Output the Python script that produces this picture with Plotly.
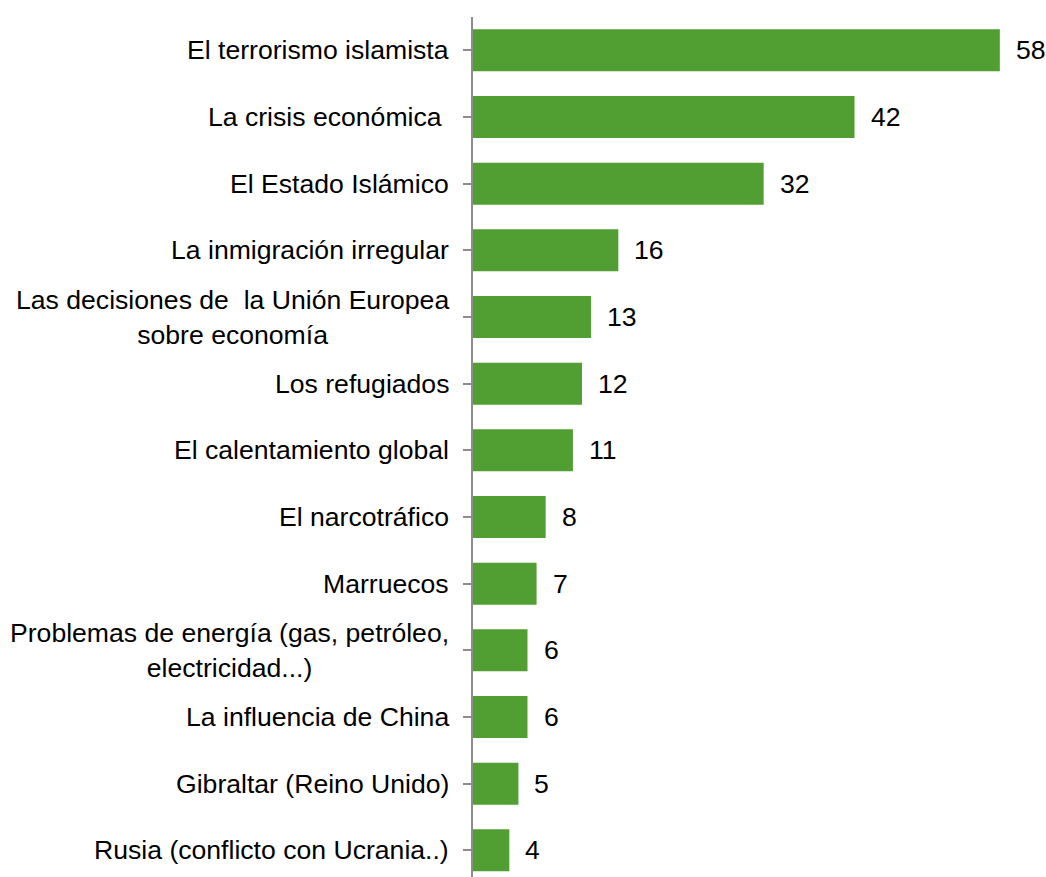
import plotly.graph_objects as go

categories = [
    "El terrorismo islamista",
    "La crisis económica ",
    "El Estado Islámico",
    "La inmigración irregular",
    "Las decisiones de  la Unión Europea<br>sobre economía",
    "Los refugiados",
    "El calentamiento global",
    "El narcotráfico",
    "Marruecos",
    "Problemas de energía (gas, petróleo,<br>electricidad...)",
    "La influencia de China",
    "Gibraltar (Reino Unido)",
    "Rusia (conflicto con Ucrania..)",
]
values = [58, 42, 32, 16, 13, 12, 11, 8, 7, 6, 6, 5, 4]

FONT = "Liberation Sans, Arial, sans-serif"
GREEN = "#519E33"
FS = 26.6

idx = list(range(len(categories)))

fig = go.Figure()
fig.add_trace(go.Bar(
    x=values, y=idx, orientation="h",
    marker=dict(color=GREEN, line=dict(width=0)),
    width=0.63, hoverinfo="skip",
))

annotations = []
for i, (c, v) in enumerate(zip(categories, values)):
    annotations.append(dict(
        x=0, xref="paper", y=i, yref="y", text=c, showarrow=False,
        xanchor="right", yanchor="middle", align="center", xshift=-22,
        font=dict(family=FONT, size=FS, color="#000000"),
    ))
    annotations.append(dict(
        x=v, xref="x", y=i, yref="y", text=str(v), showarrow=False,
        xanchor="left", yanchor="middle", xshift=14,
        font=dict(family=FONT, size=FS, color="#000000"),
    ))

fig.update_layout(
    width=1046, height=877,
    margin=dict(l=473, r=28, t=17, b=0),
    paper_bgcolor="white", plot_bgcolor="white",
    showlegend=False,
    annotations=annotations,
    xaxis=dict(range=[0, 60], visible=False, showgrid=False, zeroline=False),
    yaxis=dict(
        range=[12.4, -0.5], tickmode="array", tickvals=idx,
        ticktext=[""] * len(idx), showgrid=False, zeroline=False,
        showline=True, linecolor="#8C8C8C", linewidth=1.5,
        ticks="outside", ticklen=8, tickcolor="#8C8C8C", tickwidth=1.5,
        tickson="boundaries", type="linear",
    ),
)

fig.write_html("out.html", config={"displayModeBar": False},
               post_script="document.body.style.margin='0';")
